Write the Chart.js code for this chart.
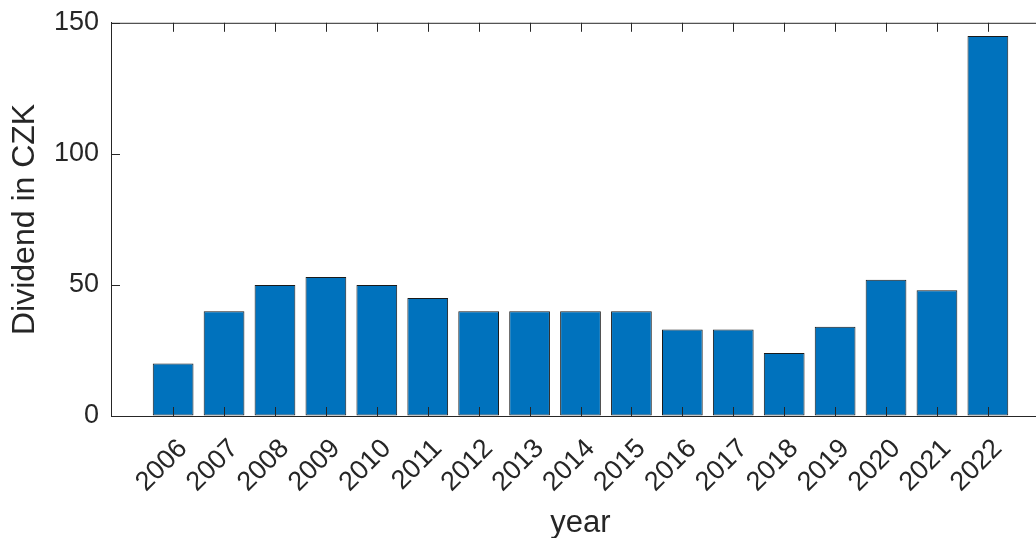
<!DOCTYPE html>
<html>
<head>
<meta charset="utf-8">
<script src="https://cdn.jsdelivr.net/npm/chart.js@4"></script>
<style>
  html, body { margin: 0; padding: 0; background: #fff; overflow: hidden; }
  #clip { width: 1036px; height: 538px; overflow: hidden; }
  #wrap { position: relative; width: 1050px; height: 538px; }
</style>
</head>
<body>
<div id="clip"><div id="wrap"><canvas id="chart"></canvas></div></div>
<script>
// ---- data ----
var YEARS       = [2006, 2007, 2008, 2009, 2010, 2011, 2012, 2013, 2014, 2015, 2016, 2017, 2018, 2019, 2020, 2021, 2022];
var YEAR_LABELS = ['2006', '2007', '2008', '2009', '2010', '2011', '2012', '2013', '2014', '2015', '2016', '2017', '2018', '2019', '2020', '2021', '2022'];
var DIVIDENDS   = [20, 40, 50, 53, 50, 45, 40, 40, 40, 40, 33, 33, 24, 34, 52, 48, 145];
var Y_TICKS     = [0, 50, 100, 150];

// ---- style ----
var AXIS_COLOR = '#262626';
var BAR_COLOR  = '#0072BD';
var TICK_LEN   = 9;

// inward MATLAB-style ticks + top box line
var boxTicks = {
  id: 'boxTicks',
  afterDatasetsDraw: function (chart) {
    var ctx = chart.ctx;
    var a = chart.chartArea;
    var xs = chart.scales.x, ys = chart.scales.y;
    ctx.save();
    ctx.strokeStyle = AXIS_COLOR;
    ctx.lineWidth = 1;
    ctx.beginPath();
    ctx.moveTo(a.left, a.top + 0.5);
    ctx.lineTo(a.right, a.top + 0.5);
    YEARS.forEach(function (v) {
      var px = Math.round(xs.getPixelForValue(v)) + 0.5;
      ctx.moveTo(px, a.bottom);
      ctx.lineTo(px, a.bottom - TICK_LEN);
      ctx.moveTo(px, a.top);
      ctx.lineTo(px, a.top + TICK_LEN);
    });
    Y_TICKS.forEach(function (v) {
      var py = Math.round(ys.getPixelForValue(v)) + 0.5;
      ctx.moveTo(a.left, py);
      ctx.lineTo(a.left + TICK_LEN, py);
    });
    ctx.stroke();
    ctx.restore();
  }
};

Chart.defaults.font.family = '"Liberation Sans", Arial, Helvetica, sans-serif';
Chart.defaults.color = AXIS_COLOR;

new Chart(document.getElementById('chart'), {
  type: 'bar',
  data: {
    datasets: [{
      data: YEARS.map(function (y, i) { return { x: y, y: DIVIDENDS[i] }; }),
      backgroundColor: BAR_COLOR,
      borderColor: '#1a1a1a',
      borderWidth: 1,
      borderSkipped: false,
      barPercentage: 0.8,
      categoryPercentage: 1.0
    }]
  },
  options: {
    responsive: true,
    maintainAspectRatio: false,
    animation: false,
    layout: { padding: { top: 22, right: 0, bottom: 0, left: 0 } },
    plugins: { legend: { display: false }, tooltip: { enabled: false } },
    scales: {
      x: {
        type: 'linear',
        min: 2004.78,
        max: 2023.22,
        offset: false,
        grid: { offset: false, drawOnChartArea: false, drawTicks: false },
        border: { display: true, color: AXIS_COLOR, width: 1 },
        afterBuildTicks: function (s) {
          s.ticks = YEARS.map(function (v) { return { value: v }; });
        },
        afterFit: function (s) { s.height = 122; },
        ticks: {
          autoSkip: false,
          minRotation: 45,
          maxRotation: 45,
          padding: 17,
          labelOffset: 10,
          font: { size: 27 },
          callback: function (v, i) { return YEAR_LABELS[i]; }
        },
        title: {
          display: true,
          text: 'year',
          font: { size: 31, lineHeight: 0.95 },
          padding: { top: 0, bottom: 0 }
        }
      },
      y: {
        min: 0,
        max: 150,
        grid: { drawOnChartArea: false, drawTicks: false },
        border: { display: true, color: AXIS_COLOR, width: 1 },
        afterBuildTicks: function (s) {
          s.ticks = Y_TICKS.map(function (v) { return { value: v }; });
        },
        afterFit: function (s) { s.width = 111; },
        ticks: {
          padding: 12,
          font: { size: 27, lineHeight: 0.8 },
          callback: function (v) { return String(v); }
        },
        title: {
          display: true,
          text: 'Dividend in CZK',
          font: { size: 32, lineHeight: 1.2 },
          padding: { top: 6, bottom: 0 }
        }
      }
    }
  },
  plugins: [boxTicks]
});
</script>
</body>
</html>
